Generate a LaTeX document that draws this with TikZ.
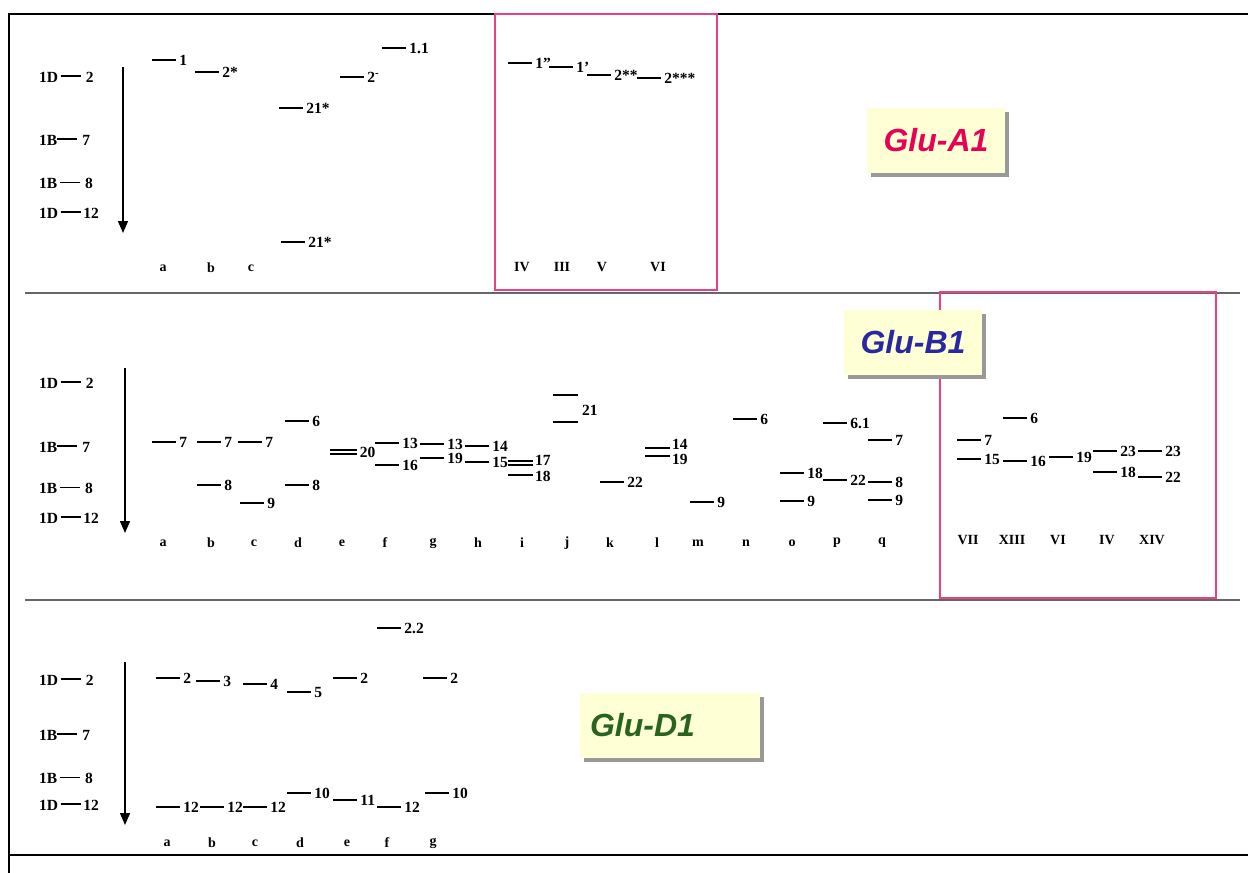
\documentclass[tikz,border=0pt]{standalone}
\usepackage{fontspec}
\setmainfont{Liberation Serif}
\newfontfamily\glufont{Liberation Sans}
\usetikzlibrary{arrows.meta,shadows}

\definecolor{boxpink}{RGB}{236,64,132}
\definecolor{gluA}{RGB}{232,0,84}
\definecolor{gluB}{RGB}{40,40,160}
\definecolor{gluD}{RGB}{40,100,30}
\definecolor{notefill}{RGB}{255,255,213}

\begin{document}
\begin{tikzpicture}[
    x=1pt,y=-1pt,
    band/.style={line width=2.8pt,black},
    dband/.style={line width=1.8pt,black},
    bandlab/.style={anchor=west,inner xsep=2pt,inner ysep=0pt,font=\fontsize{15.5}{15.5}\selectfont\bfseries},
    legend/.style={anchor=west,inner sep=0pt,font=\fontsize{15.5}{15.5}\selectfont\bfseries},
    lane/.style={inner sep=0pt,font=\fontsize{14}{14}\selectfont\bfseries},
    migr/.style={line width=1.4pt,-{Triangle[length=12pt,width=10pt]}},
    frame/.style={line width=2.8pt,black},
    sep/.style={line width=1.4pt,black!60},
    newbox/.style={draw=boxpink,line width=2pt},
    glubox/.style={fill=notefill,minimum height=65pt,inner xsep=10pt,
        font=\glufont\bfseries\itshape\fontsize{32}{36}\selectfont,
        drop shadow={shadow xshift=4pt,shadow yshift=-4pt,fill=black!40,opacity=1}}
]
\useasboundingbox (0,0) rectangle (1248,873);

% outer frame and section rules
\draw[frame] (1248,14) -| (9,873);
\draw[frame] (9,855) -- (1248,855);
\draw[sep] (25,293) -- (1240,293);
\draw[sep] (25,600) -- (1240,600);
\draw[newbox] (495,14) rectangle (717,290);
\draw[newbox] (940,292) rectangle (1216,598);

% Glu-A1
\foreach \y/\t in {77/{1D\,\rule[0.33em]{20pt}{1.8pt}\,\,2},140/{1B\rule[0.33em]{20pt}{1.8pt}\,\,7},
    183/{1B\,\rule[0.33em]{20pt}{1.3pt}\,\,8},213/{1D\,\rule[0.33em]{20pt}{1.8pt}\,12}}
    \node[legend] (A-l\y) at (39,\y) {\t};
\coordinate (A-top) at (123,67);
\coordinate (A-bot) at (123,233);
\draw[migr] (A-top) -- (A-bot);
\foreach \n/\x/\y/\t in {a1/152/60/1,b1/195/72/2*,d1/279/108/21*,d2/281/242/21*,
    e1/340/77/{2\textsuperscript{-}},f1/382/48/1.1,
    iv/508/63/{1''},iii/549/67/{1'},v/587/75/2**,vi/637/78/2***}
    \draw[band] (\x,\y) -- ++(24,0) node[bandlab] (A-\n) {\t};
\foreach \l/\x in {a/163,b/211,c/251}
    \node[lane] (A-\l) at (\x,268) {\l};
\foreach \r/\x in {IV/522,III/562,V/602,VI/658}
    \node[lane] (A-\r) at (\x,267) {\r};
\node[glubox,text=gluA,minimum width=138pt] (gluA1) at (936,140) {Glu-A1};

% Glu-B1
\foreach \y/\t in {383/{1D\,\rule[0.33em]{20pt}{1.8pt}\,\,2},447/{1B\rule[0.33em]{20pt}{1.8pt}\,\,7},
    488/{1B\,\rule[0.33em]{20pt}{1.3pt}\,\,8},518/{1D\,\rule[0.33em]{20pt}{1.8pt}\,12}}
    \node[legend] (B-l\y) at (39,\y) {\t};
\coordinate (B-top) at (125,368);
\coordinate (B-bot) at (125,533);
\draw[migr] (B-top) -- (B-bot);
\foreach \n/\x/\y/\t in {a1/152/442/7,b1/197/442/7,b2/197/485/8,c1/238/442/7,c2/240/503/9,
    d1/285/421/6,d2/285/485/8,f1/375/443/13,f2/375/465/16,g1/420/444/13,g2/420/458/19,
    h1/465/446/14,h2/465/462/15,k1/600/482/22,m1/690/502/9,n1/733/419/6,
    o1/780/473/18,o2/780/501/9,p1/823/423/6.1,p2/823/480/22,q1/868/440/7,q2/868/482/8,q3/868/500/9,
    vii1/957/440/7,vii2/957/459/15,xiii1/1003/418/6,xiii2/1003/461/16,vi1/1049/457/19,
    iv1/1093/451/23,iv2/1093/472/18,xiv1/1138/451/23,xiv2/1138/477/22}
    \draw[band] (\x,\y) -- ++(24,0) node[bandlab] (B-\n) {\t};
% doubled and stacked bands
\draw[dband] (330,450) -- ++(27,0) (330,454) -- ++(27,0) node[bandlab,yshift=2pt] (B-e1) {20};
\draw[dband] (508,461) -- ++(25,0) (508,465) -- ++(25,0);
\draw[band] (508,475) -- ++(25,0);
\node[bandlab] (B-i1) at (533,460) {17};
\node[bandlab] (B-i2) at (533,476) {18};
\draw[band] (553,395) -- ++(25,0) (553,422) -- ++(25,0);
\node[bandlab] (B-j1) at (580,410) {21};
\draw[band] (645,448) -- ++(25,0) (645,456) -- ++(25,0);
\node[bandlab] (B-l1) at (670,444) {14};
\node[bandlab] (B-l2) at (670,459) {19};
\foreach \l/\x in {a/163,b/211,c/254,d/298,e/342,f/385,g/433,h/478,i/522,j/567,k/610,
    l/657,m/698,n/746,o/792,p/837,q/882}
    \node[lane] (B-\l) at (\x,543) {\l};
\foreach \r/\x in {VII/968,XIII/1012,VI/1058,IV/1107,XIV/1152}
    \node[lane] (B-\r) at (\x,540) {\r};
\node[glubox,text=gluB,minimum width=138pt] (gluB1) at (913,342) {Glu-B1};

% Glu-D1
\foreach \y/\t in {680/{1D\,\rule[0.33em]{20pt}{1.8pt}\,\,2},735/{1B\rule[0.33em]{20pt}{1.8pt}\,\,7},
    778/{1B\,\rule[0.33em]{20pt}{1.3pt}\,\,8},805/{1D\,\rule[0.33em]{20pt}{1.8pt}\,12}}
    \node[legend] (D-l\y) at (39,\y) {\t};
\coordinate (D-top) at (125,662);
\coordinate (D-bot) at (125,825);
\draw[migr] (D-top) -- (D-bot);
\foreach \n/\x/\y/\t in {f0/377/628/2.2,a1/156/678/2,b1/196/681/3,c1/243/684/4,d1/287/692/5,
    e1/333/678/2,g1/423/678/2,a2/156/807/12,b2/200/807/12,c2/243/807/12,d2/287/793/10,
    e2/333/800/11,f2/377/807/12,g2/425/793/10}
    \draw[band] (\x,\y) -- ++(24,0) node[bandlab] (D-\n) {\t};
\foreach \l/\x in {a/167,b/212,c/255,d/300,e/347,f/387,g/433}
    \node[lane] (D-\l) at (\x,843) {\l};
\node[glubox,text=gluD,text width=160pt,align=left] (gluD1) at (670,725) {Glu-D1};
\end{tikzpicture}
\end{document}
